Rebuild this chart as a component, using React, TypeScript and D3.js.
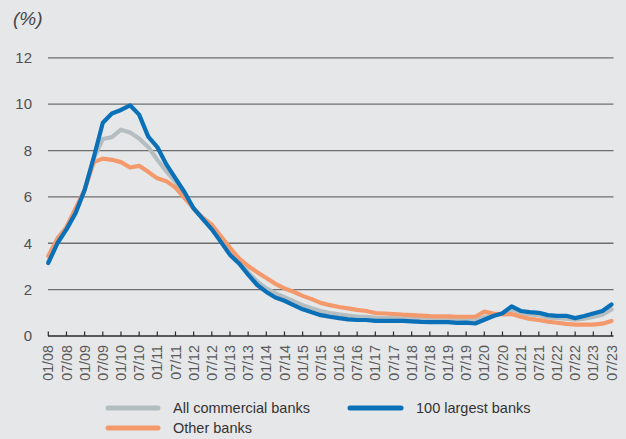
import React from "react";
import * as d3 from "d3";

const quarters = [
  "01/08","04/08","07/08","10/08","01/09","04/09","07/09","10/09",
  "01/10","04/10","07/10","10/10","01/11","04/11","07/11","10/11",
  "01/12","04/12","07/12","10/12","01/13","04/13","07/13","10/13",
  "01/14","04/14","07/14","10/14","01/15","04/15","07/15","10/15",
  "01/16","04/16","07/16","10/16","01/17","04/17","07/17","10/17",
  "01/18","04/18","07/18","10/18","01/19","04/19","07/19","10/19",
  "01/20","04/20","07/20","10/20","01/21","04/21","07/21","10/21",
  "01/22","04/22","07/22","10/22","01/23","04/23","07/23",
];

const tickLabels = [
  "01/08","07/08","01/09","07/09","01/10","07/10","01/11","07/11",
  "01/12","07/12","01/13","07/13","01/14","07/14","01/15","07/15",
  "01/16","07/16","01/17","07/17","01/18","07/18","01/19","07/19",
  "01/20","07/20","01/21","07/21","01/22","07/22","01/23","07/23",
];

const yTicks = [0, 2, 4, 6, 8, 10, 12];

const allBanks = [
  3.2, 4.05, 4.62, 5.35, 6.3, 7.65, 8.5, 8.58,
  8.9, 8.78, 8.52, 8.15, 7.6, 7.1, 6.65, 6.1,
  5.5, 5.05, 4.65, 4.15, 3.6, 3.2, 2.75, 2.35,
  2.05, 1.85, 1.68, 1.5, 1.33, 1.2, 1.08, 0.99,
  0.93, 0.88, 0.84, 0.83, 0.78, 0.77, 0.77, 0.76,
  0.74, 0.72, 0.71, 0.71, 0.71, 0.69, 0.69, 0.66,
  0.82, 0.9, 0.96, 1.15, 1.0, 0.93, 0.9, 0.8,
  0.77, 0.75, 0.7, 0.75, 0.82, 0.92, 1.15,
];

const largestBanks = [
  3.15, 4.0, 4.6, 5.3, 6.3, 7.7, 9.2, 9.6,
  9.75, 9.95, 9.55, 8.6, 8.15, 7.4, 6.8, 6.2,
  5.5, 5.05, 4.6, 4.06, 3.5, 3.13, 2.65, 2.2,
  1.9, 1.66, 1.52, 1.33, 1.15, 1.02, 0.9, 0.83,
  0.77, 0.72, 0.69, 0.69, 0.65, 0.65, 0.65, 0.65,
  0.63, 0.61, 0.6, 0.6, 0.6, 0.57, 0.58, 0.54,
  0.7, 0.86, 0.98, 1.28, 1.08, 1.03, 1.0, 0.9,
  0.87, 0.87, 0.77, 0.86, 0.97, 1.08, 1.36,
];

const otherBanks = [
  3.45, 4.2, 4.7, 5.5, 6.3, 7.5, 7.65, 7.6,
  7.5, 7.27, 7.34, 7.08, 6.8, 6.68, 6.4, 5.95,
  5.5, 5.1, 4.8, 4.3, 3.8, 3.35, 3.02, 2.75,
  2.5, 2.25, 2.05, 1.91, 1.73, 1.59, 1.43, 1.33,
  1.25, 1.19, 1.13, 1.08, 0.99, 0.97, 0.95, 0.92,
  0.9, 0.88, 0.86, 0.85, 0.85, 0.83, 0.83, 0.83,
  1.05, 0.97, 0.93, 0.95, 0.83, 0.74, 0.69, 0.62,
  0.57, 0.52, 0.49, 0.49, 0.49, 0.53, 0.65,
];

const W = 626;
const H = 439;
const BG = "#e6e7e9";
const C_ALL = "#b4bdbf";
const C_LARGE = "#0a70b8";
const C_OTHER = "#f3996c";
const FONT = "'Liberation Sans', Arial, sans-serif";

export default function App() {
  const x = d3.scalePoint<string>().domain(quarters).range([48.3, 611.5]);
  const y = d3.scaleLinear().domain([0, 12]).range([336, 57.8]);

  const line = d3
    .line<number>()
    .x((_, i) => x(quarters[i]) as number)
    .y((d) => y(d));

  const series = [
    { name: "All commercial banks", values: allBanks, color: C_ALL },
    { name: "Other banks", values: otherBanks, color: C_OTHER },
    { name: "100 largest banks", values: largestBanks, color: C_LARGE },
  ];

  const gridX0 = 48;
  const gridX1 = 613.5;

  return (
    <svg
      width={W}
      height={H}
      style={{ position: "absolute", left: 0, top: 0, display: "block" }}
      fontFamily={FONT}
    >
      <rect x={0} y={0} width={W} height={H} fill={BG} />
      <text x={13} y={25} fontSize={19} fontStyle="italic" fill="#444">
        (%)
      </text>
      {yTicks.map((t) => (
        <g key={t}>
          {t > 0 && (
            <line
              x1={gridX0}
              x2={gridX1}
              y1={y(t)}
              y2={y(t)}
              stroke="#6e6e6e"
              strokeWidth={1.3}
            />
          )}
          <text
            x={32}
            y={y(t)}
            dy="0.35em"
            textAnchor="end"
            fontSize={15}
            fill="#505050"
          >
            {t}
          </text>
        </g>
      ))}
      <line
        x1={gridX0}
        x2={gridX1}
        y1={y(0)}
        y2={y(0)}
        stroke="#2a2a2a"
        strokeWidth={1.3}
      />
      {tickLabels.map((lab) => {
        const xx = x(lab) as number;
        return (
          <g key={lab}>
            <line
              x1={xx}
              x2={xx}
              y1={y(0)}
              y2={y(0) - 4.5}
              stroke="#2a2a2a"
              strokeWidth={1.2}
            />
            <text
              transform={`translate(${xx},345) rotate(-90)`}
              textAnchor="end"
              dy="0.36em"
              fontSize={14.3}
              fill="#5a5a5a"
            >
              {lab}
            </text>
          </g>
        );
      })}
      {series.map((s) => (
        <path
          key={s.name}
          d={line(s.values) || ""}
          fill="none"
          stroke={s.color}
          strokeWidth={4.2}
          strokeLinejoin="round"
          strokeLinecap="round"
        />
      ))}
      {/* legend */}
      <g fontSize={14.5} fill="#333">
        <line x1={108} x2={158} y1={408} y2={408} stroke={C_ALL} strokeWidth={5} strokeLinecap="round" />
        <text x={173} y={408} dy="0.35em">All commercial banks</text>
        <line x1={350} x2={401} y1={408} y2={408} stroke={C_LARGE} strokeWidth={5} strokeLinecap="round" />
        <text x={416} y={408} dy="0.35em">100 largest banks</text>
        <line x1={108} x2={158} y1={428} y2={428} stroke={C_OTHER} strokeWidth={5} strokeLinecap="round" />
        <text x={173} y={428} dy="0.35em">Other banks</text>
      </g>
    </svg>
  );
}
